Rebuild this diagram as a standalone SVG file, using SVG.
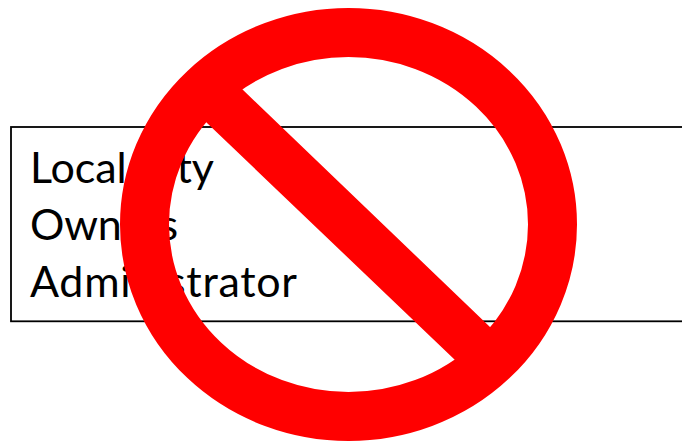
<svg xmlns="http://www.w3.org/2000/svg" width="682" height="443" viewBox="0 0 682 443">
<style>
.t{font-family:"Lato","Open Sans","Liberation Sans",sans-serif;font-size:43px;fill:#000}
.r{fill:none;stroke:#f00}
</style>
<rect width="682" height="443" fill="#fff"/>
<g id="box">
<rect x="11" y="127" width="680" height="194.300" fill="#fff" stroke="#000" stroke-width="1.800"/>
<text class="t" x="30" y="183" textLength="184">Local City</text>
<text class="t" x="30" y="240" textLength="148">Owners</text>
<text class="t" x="30" y="297" textLength="267">Administrator</text>
</g>
<g id="no-symbol">
<ellipse class="r" cx="348.500" cy="224.500" rx="204" ry="192" stroke-width="49"/>
<polygon fill="#f00" points="242,89 490,327 510,345 470,385 455,360 207,123 190,105 225,70"/>
</g>
</svg>
